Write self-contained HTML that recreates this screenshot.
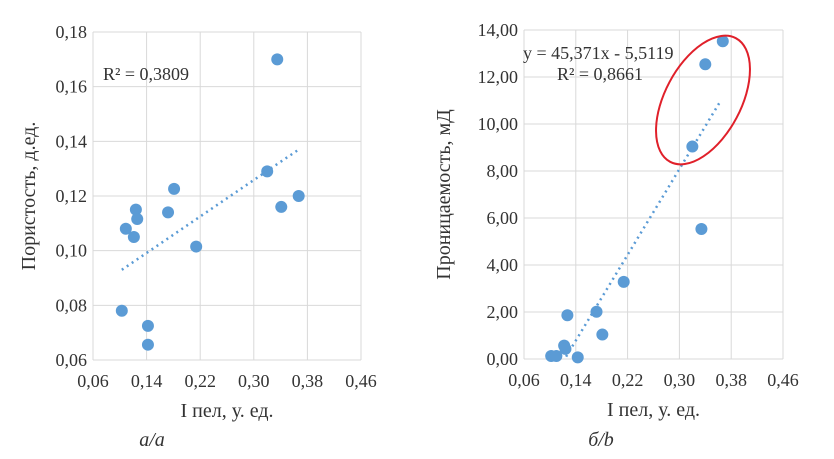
<!DOCTYPE html>
<html><head><meta charset="utf-8"><style>
body{margin:0;background:#fff;width:834px;height:454px;overflow:hidden}
svg text{font-family:"Liberation Serif","Noto Serif CJK SC",serif;fill:#333}
</style></head><body>
<svg id="s" width="834" height="454"></svg>
<script>
const xTicks=[0.06,0.14,0.22,0.30,0.38,0.46];
const xTickLabels=["0,06","0,14","0,22","0,30","0,38","0,46"];
const aTicks=[0.06,0.08,0.10,0.12,0.14,0.16,0.18];
const aTickLabels=["0,06","0,08","0,10","0,12","0,14","0,16","0,18"];
const bTicks=[0,2,4,6,8,10,12,14];
const bTickLabels=["0,00","2,00","4,00","6,00","8,00","10,00","12,00","14,00"];
const aX=[0.335,0.32,0.341,0.367,0.181,0.172,0.124,0.126,0.109,0.121,0.214,0.103,0.142,0.142];
const aY=[0.170,0.129,0.116,0.120,0.1226,0.114,0.115,0.1116,0.108,0.105,0.1015,0.078,0.0725,0.0656];
const aTrend=[[0.103,0.093],[0.367,0.137]];
const bX=[0.367,0.340,0.320,0.334,0.214,0.172,0.127,0.181,0.122,0.124,0.102,0.110,0.143];
const bY=[13.52,12.54,9.04,5.53,3.28,2.01,1.86,1.04,0.57,0.43,0.13,0.13,0.07];
const bTrend=[[0.125,0.1],[0.364,11.0]];
const NS="http://www.w3.org/2000/svg",svg=document.getElementById('s');
function el(t,a,p){const e=document.createElementNS(NS,t);for(const k in a)e.setAttribute(k,a[k]);(p||svg).appendChild(e);return e;}
function chart(cfg){
 const g=el('g',{});
 
 
 const sx=v=>cfg.x0+(v-0.06)/0.4*(cfg.x1-cfg.x0);
 const sy=v=>cfg.y1-(v-cfg.ymin)/(cfg.ymax-cfg.ymin)*(cfg.y1-cfg.y0);
 cfg.yt.forEach((v,i)=>{
  const l=el('line',{x1:cfg.x0,x2:cfg.x1,y1:sy(v),y2:sy(v),stroke:'#d9d9d9','stroke-width':1},g);
  
  
  const t=el('text',{x:cfg.x0-6,y:sy(v)+6,'text-anchor':'end','font-size':18},g);t.textContent=cfg.ytl[i];
  
  
 });
 xTicks.forEach((v,i)=>{
  const l=el('line',{x1:sx(v),x2:sx(v),y1:cfg.y0,y2:cfg.y1,stroke:'#d9d9d9','stroke-width':1},g);
  
  
  const t=el('text',{x:sx(v),y:cfg.y1+27,'text-anchor':'middle','font-size':18},g);t.textContent=xTickLabels[i];
  
  
 });
 const tr=cfg.trend;
 const ln=el('line',{x1:sx(tr[0][0]),y1:sy(tr[0][1]),x2:sx(tr[1][0]),y2:sy(tr[1][1]),stroke:'#5b9bd5','stroke-width':2.5,'stroke-dasharray':'2 4'},g);
 
 
 cfg.xs.forEach((v,i)=>{
  const c=el('circle',{cx:sx(v),cy:sy(cfg.ys[i]),r:6,fill:'#5b9bd5'},g);
  
  
 });
 const xt=el('text',{x:(cfg.x0+cfg.x1)/2,y:cfg.y1+57,'text-anchor':'middle','font-size':20},g);xt.textContent='I пел, у. ед.';
 
 
 const cy=(cfg.y0+cfg.y1)/2;
 const yt=el('text',{x:cfg.ytx,y:cy,'text-anchor':'middle','font-size':20,transform:`rotate(-90 ${cfg.ytx} ${cy})`},g);yt.textContent=cfg.ytitle;
 
 
 const cap=el('text',{x:cfg.capx,y:446,'text-anchor':'middle','font-size':20,'font-style':'italic'},g);cap.textContent=cfg.cap;
 
 
 return g;
}
chart({name:'chart-a',x0:93,x1:361,y0:32,y1:360,ymin:0.06,ymax:0.18,yt:aTicks,ytl:aTickLabels,xs:aX,ys:aY,trend:aTrend,ytx:35,ytitle:'Пористость, д.ед.',cap:'а/а',capx:152});
chart({name:'chart-b',x0:524,x1:783,y0:30,y1:359,ymin:0,ymax:14,yt:bTicks,ytl:bTickLabels,xs:bX,ys:bY,trend:bTrend,ytx:450,ytitle:'Проницаемость, мД',cap:'б/b',capx:601});
let t=el('text',{x:103,y:80,'font-size':18});t.textContent='R² = 0,3809';


t=el('text',{x:523,y:59,'font-size':18});t.textContent='y = 45,371x - 5,5119';


t=el('text',{x:557,y:80,'font-size':18});t.textContent='R² = 0,8661';


const e=el('ellipse',{cx:703,cy:100,rx:38,ry:70,fill:'none',stroke:'#e0202a','stroke-width':2,transform:'rotate(28 703 100)'});


</script>
</body></html>
